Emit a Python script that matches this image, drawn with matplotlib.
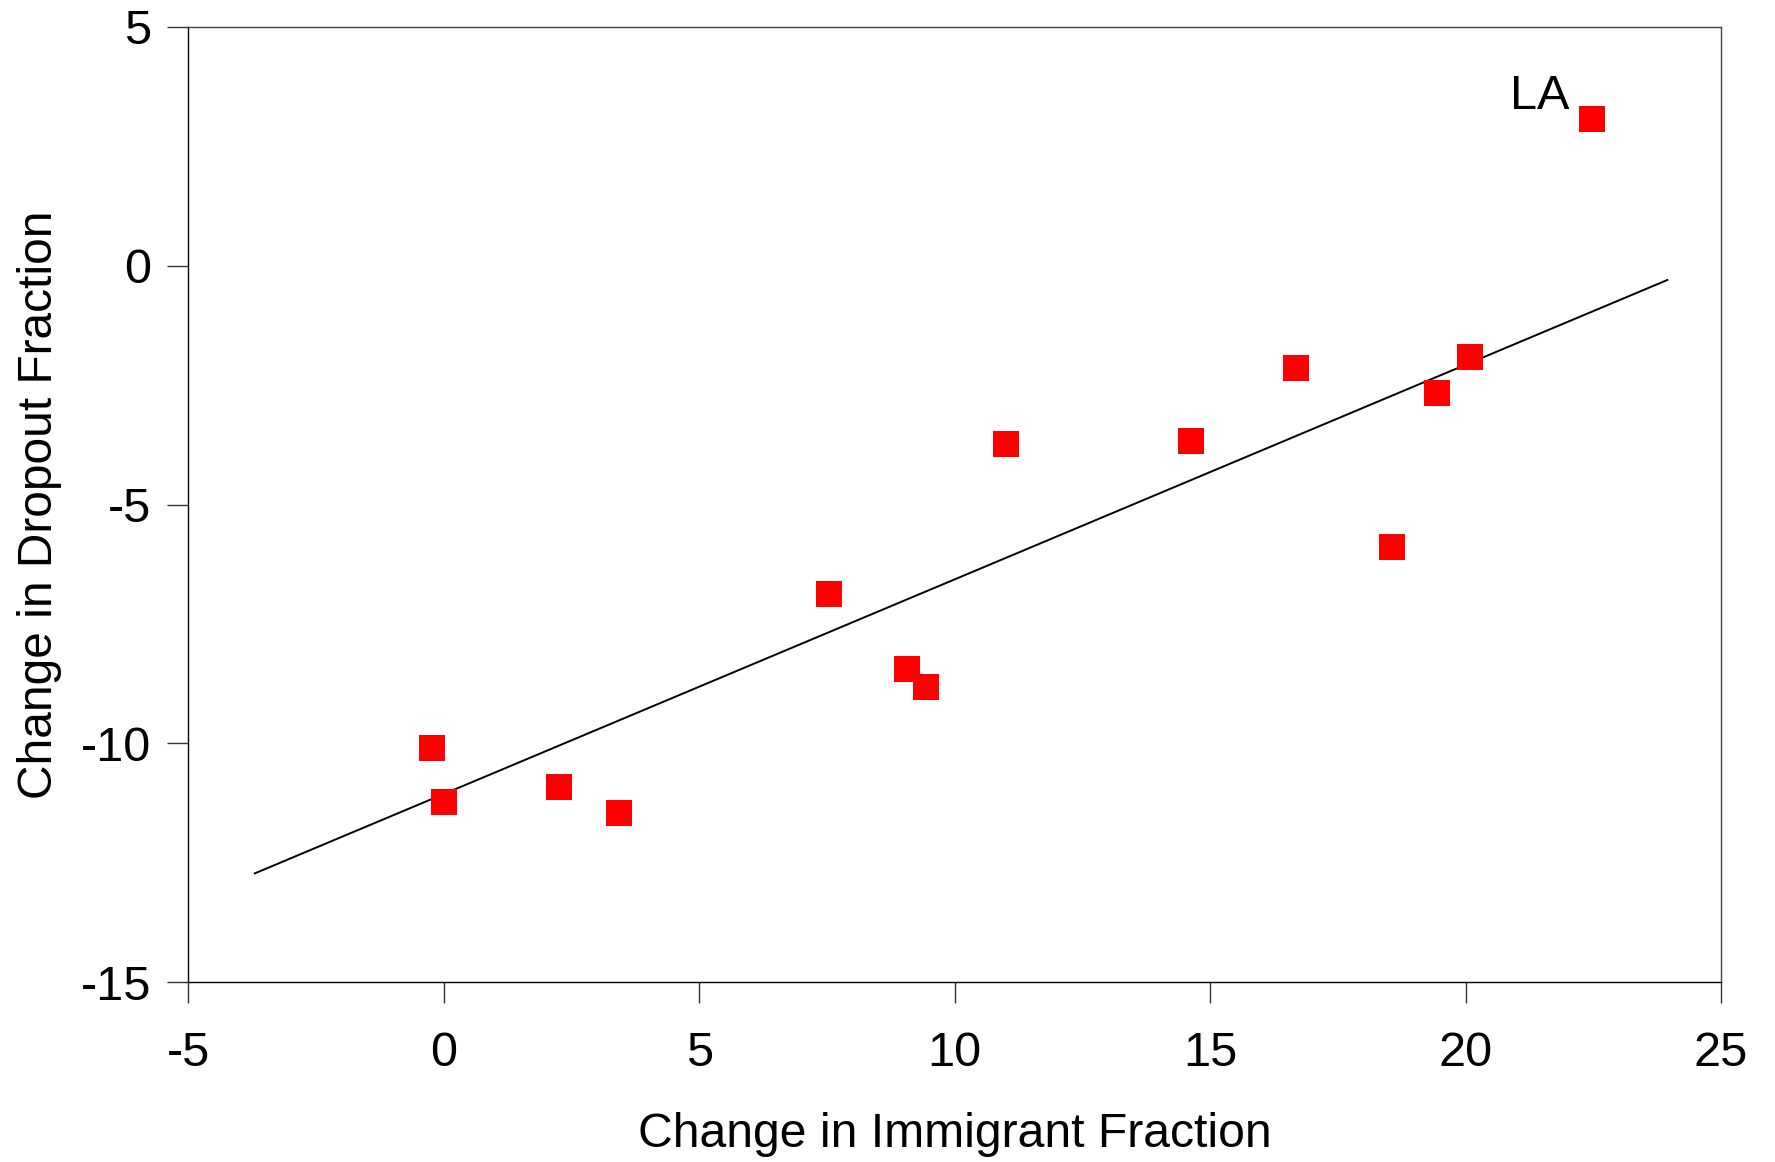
import matplotlib
matplotlib.use("Agg")
import matplotlib.pyplot as plt

plt.rcParams['font.family'] = ['Liberation Sans', 'DejaVu Sans']
plt.rcParams['axes.unicode_minus'] = False

# Data
immigrant_change = [-0.24, 0.0, 2.25, 3.43, 7.54, 9.07, 9.43, 11.0, 14.63, 16.69, 18.55, 19.44, 20.08, 22.47]
dropout_change = [-10.10, -11.22, -10.91, -11.46, -6.88, -8.44, -8.82, -3.73, -3.66, -2.15, -5.89, -2.67, -1.91, 3.07]
fit_x = [-3.7, 23.95]
fit_y = [-12.72, -0.30]
label_text = "LA"
label_x = 22.03
label_y = 3.27
x_ticks = [-5, 0, 5, 10, 15, 20, 25]
y_ticks = [-15, -10, -5, 0, 5]

fig = plt.figure(figsize=(17.75, 11.62), dpi=100)
ax = fig.add_axes([0.1061, 0.1546, 0.8635, 0.8224])

ax.plot(fit_x, fit_y, color='black', linewidth=1.4, zorder=2)
ax.plot(immigrant_change, dropout_change, linestyle='none', marker='s',
        markersize=19, color='#ff0000', markeredgewidth=0, zorder=3)
ax.text(label_x, label_y, label_text, ha='right', va='baseline', fontsize=35)

ax.set_xlim(-5, 25)
ax.set_ylim(-15, 5)
ax.set_xticks(x_ticks)
ax.set_yticks(y_ticks)
ax.tick_params(direction='out', length=15, width=1, labelsize=35, color='#333333')
ax.tick_params(axis='x', pad=20)
ax.tick_params(axis='y', pad=12)
for s in ax.spines.values():
    s.set_linewidth(1.0)
ax.spines['top'].set_color('#444444')
ax.spines['right'].set_color('#444444')

ax.set_xlabel('Change in Immigrant Fraction', fontsize=34.7, labelpad=26)
ax.set_ylabel('Change in Dropout Fraction', fontsize=34.5, labelpad=13)

fig.savefig('out.png', dpi=100, facecolor='white')
